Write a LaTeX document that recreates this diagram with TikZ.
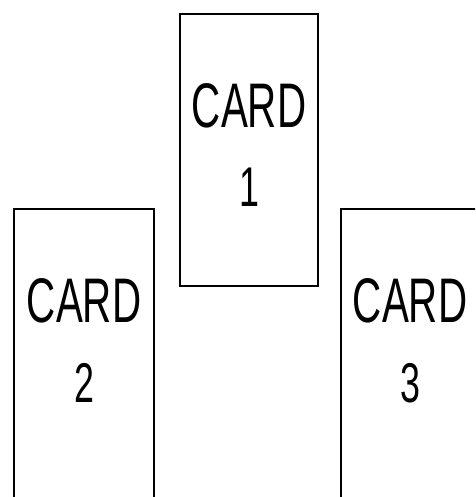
\documentclass[tikz,border=0pt]{standalone}
\usepackage{fontspec}
\setmainfont{Liberation Sans}
\usetikzlibrary{positioning}

\begin{document}
\begin{tikzpicture}[
    x=1pt, y=1pt,
    card/.style={draw, line width=2.2pt, minimum width=138pt, minimum height=272pt, inner sep=0pt},
    word/.style={inner sep=0pt, font=\fontsize{63}{63}\selectfont},
    num/.style={inner sep=0pt, font=\fontsize{56}{56}\selectfont}
]
    \useasboundingbox (0,0) rectangle (475,497);
    \clip (0,0) rectangle (475,497);

    % Cards
    \node[card, anchor=north west] (C1) at (179,484) {};
    \node[card, anchor=north west, minimum width=140pt, minimum height=300pt] (C2) at (13,289) {};
    \node[card, anchor=north west, minimum height=300pt] (C3) at (340,289) {};

    % Labels
    \node[word, below=70pt of C1.north] (C1w) {\scalebox{0.64}[1]{CARD}};
    \node[num, below=40pt of C1w] (C1n) {\scalebox{0.64}[1]{1}};
    \node[word, below=70pt of C2.north] (C2w) {\scalebox{0.64}[1]{CARD}};
    \node[num, below=40pt of C2w] (C2n) {\scalebox{0.64}[1]{2}};
    \node[word, below=70pt of C3.north] (C3w) {\scalebox{0.64}[1]{CARD}};
    \node[num, below=40pt of C3w] (C3n) {\scalebox{0.64}[1]{3}};
\end{tikzpicture}
\end{document}
